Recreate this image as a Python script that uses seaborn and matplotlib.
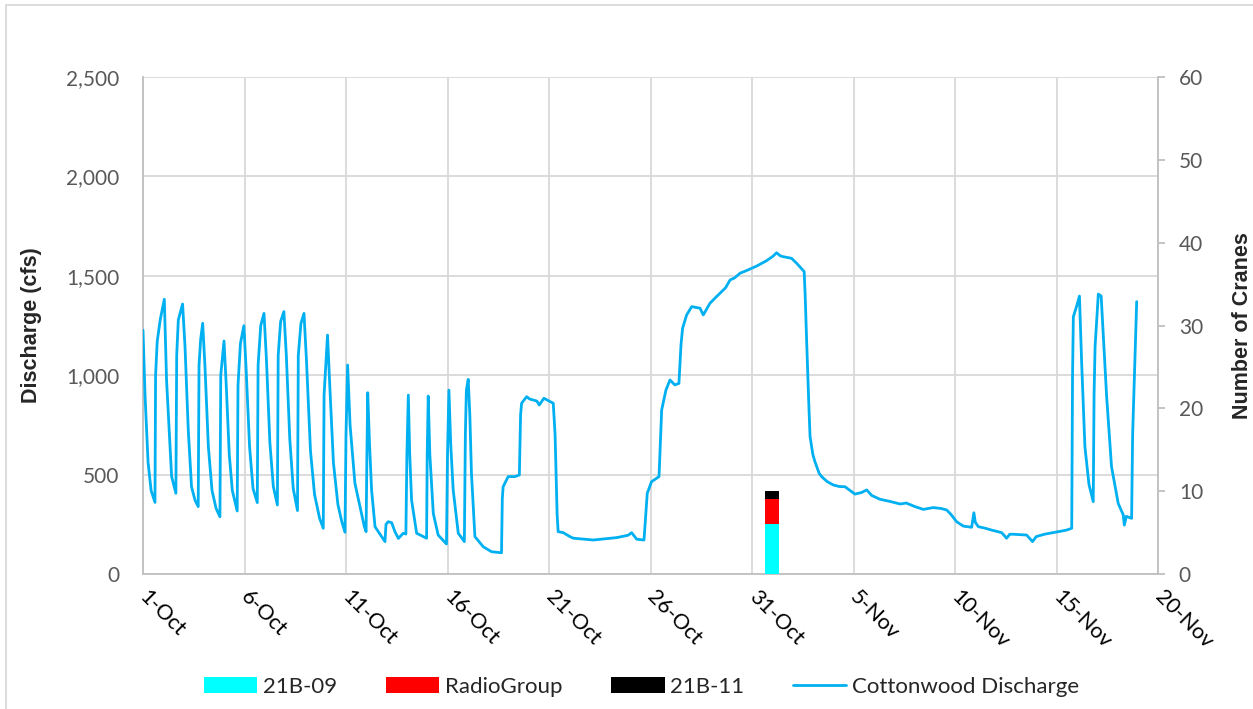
import numpy as np
import pandas as pd
import matplotlib
matplotlib.use('Agg')
import matplotlib.pyplot as plt
import matplotlib.dates as mdates
from matplotlib.patches import Patch, Rectangle
from matplotlib.lines import Line2D
from matplotlib.font_manager import FontProperties
import seaborn as sns

# Cottonwood discharge (cfs): days after 1-Oct 00:00
day_offset = [
    0.00, 0.10, 0.25, 0.40, 0.59, 0.62, 0.70, 0.85, 1.05, 1.16, 1.33, 1.41,
    1.62, 1.66, 1.74, 1.95, 2.07, 2.23, 2.39, 2.56, 2.72, 2.76, 2.84, 2.94,
    3.05, 3.22, 3.40, 3.60, 3.79, 3.83, 3.99, 4.10, 4.25, 4.40, 4.64, 4.68,
    4.80, 4.97, 5.08, 5.25, 5.42, 5.63, 5.67, 5.80, 5.96, 6.08, 6.25, 6.42,
    6.62, 6.66, 6.78, 6.94, 7.06, 7.23, 7.40, 7.61, 7.65, 7.78, 7.93, 8.05,
    8.25, 8.45, 8.70, 8.88, 8.92, 9.09, 9.20, 9.38, 9.60, 9.80, 9.95, 10.00,
    10.08, 10.20, 10.44, 10.69, 10.90, 10.99, 11.03, 11.07, 11.16, 11.26, 11.43, 11.59,
    11.92, 11.97, 12.08, 12.25, 12.41, 12.58, 12.82, 12.95, 13.00, 13.07, 13.14, 13.23,
    13.48, 13.97, 14.00, 14.05, 14.13, 14.30, 14.54, 14.95, 15.00, 15.07, 15.16, 15.28,
    15.53, 15.83, 15.88, 15.93, 16.02, 16.10, 16.18, 16.35, 16.76, 17.17, 17.66, 17.70,
    17.74, 17.99, 18.32, 18.54, 18.60, 18.65, 18.90, 19.05, 19.22, 19.40, 19.52, 19.75,
    20.00, 20.21, 20.30, 20.40, 20.45, 20.70, 21.03, 21.20, 22.18, 23.33, 23.90, 24.07,
    24.32, 24.68, 24.80, 24.84, 25.05, 25.42, 25.50, 25.55, 25.76, 25.96, 26.20, 26.40,
    26.50, 26.58, 26.78, 27.03, 27.30, 27.44, 27.60, 27.93, 28.20, 28.42, 28.70, 28.92,
    29.15, 29.41, 29.70, 29.98, 30.25, 30.48, 30.70, 30.89, 31.05, 31.21, 31.40, 31.54,
    31.75, 31.95, 32.20, 32.45, 32.57, 32.62, 32.69, 32.80, 32.86, 33.00, 33.10, 33.31,
    33.43, 33.70, 34.00, 34.30, 34.58, 35.07, 35.40, 35.65, 35.90, 36.30, 36.80, 37.30,
    37.60, 38.00, 38.44, 38.92, 39.30, 39.59, 39.80, 40.08, 40.41, 40.82, 40.93, 41.00,
    41.15, 41.50, 41.80, 42.30, 42.54, 42.70, 42.87, 43.53, 43.82, 44.00, 44.40, 44.84,
    45.20, 45.50, 45.75, 45.79, 45.83, 46.00, 46.13, 46.24, 46.40, 46.60, 46.81, 46.85,
    46.90, 47.06, 47.20, 47.47, 47.71, 48.04, 48.29, 48.34, 48.44, 48.70, 48.75, 48.95,
]
discharge = [
    1227, 900, 560, 420, 360, 1000, 1170, 1280, 1382, 976, 640, 490,
    406, 1100, 1278, 1358, 1143, 724, 439, 372, 339, 1050, 1180, 1261,
    1050, 640, 420, 330, 288, 1000, 1172, 950, 600, 420, 317, 950,
    1160, 1249, 1030, 640, 430, 359, 1050, 1250, 1311, 1080, 660, 440,
    347, 1100, 1270, 1320, 1100, 680, 430, 319, 1100, 1260, 1311, 1080,
    620, 400, 280, 230, 900, 1202, 950, 560, 350, 260, 210, 700,
    1051, 750, 456, 339, 240, 213, 600, 912, 650, 423, 238, 213,
    163, 250, 263, 258, 213, 179, 205, 201, 600, 900, 600, 372,
    205, 180, 600, 895, 600, 305, 196, 151, 600, 925, 650, 423,
    205, 163, 700, 925, 979, 800, 506, 188, 137, 112, 107, 380,
    439, 490, 490, 498, 800, 859, 892, 880, 875, 870, 850, 884,
    870, 859, 700, 300, 213, 208, 188, 180, 171, 183, 195, 208,
    175, 171, 350, 406, 464, 490, 700, 825, 925, 976, 951, 959,
    1150, 1236, 1303, 1345, 1340, 1337, 1303, 1362, 1390, 1412, 1440, 1479,
    1490, 1513, 1525, 1538, 1550, 1563, 1575, 1588, 1600, 1616, 1600, 1596,
    1592, 1588, 1563, 1535, 1521, 1400, 1177, 850, 691, 600, 565, 506,
    490, 465, 448, 440, 439, 402, 410, 423, 395, 376, 365, 352,
    357, 340, 325, 334, 330, 322, 300, 263, 241, 235, 308, 260,
    238, 230, 221, 208, 180, 200, 200, 196, 163, 188, 200, 208,
    215, 221, 230, 1000, 1294, 1350, 1398, 1060, 640, 450, 364, 900,
    1143, 1408, 1398, 892, 540, 355, 297, 246, 290, 280, 700, 1370,
]

# Crane observations (stacked column on 1-Nov)
crane_date = ['2021-11-01']
group_names = ['21B-09', 'RadioGroup', '21B-11']
group_counts = [[6], [3], [1]]
group_colors = ['#00FFFF', '#FF0000', '#000000']

tick_dates = pd.date_range('2021-10-01', '2021-11-20', freq='5D')

start = pd.Timestamp('2021-10-01')
df = pd.DataFrame({
    'time': start + pd.to_timedelta(day_offset, unit='D'),
    'discharge': discharge,
})

sns.set_style('white')
plt.rcParams['font.family'] = ['Lato', 'DejaVu Sans']

fig = plt.figure(figsize=(12.53, 7.09), dpi=100)
ax = fig.add_axes([143 / 1253, 1 - 574 / 709, (1158 - 143) / 1253, (574 - 77) / 709])
ax2 = ax.twinx()

line_color = '#00B0F0'
grid_color = '#D9D9D9'
spine_color = '#BFBFBF'
tick_color = '#595959'

sns.lineplot(data=df, x='time', y='discharge', ax=ax, color=line_color,
             linewidth=2.0, zorder=3)

# stacked crane columns on the secondary axis
bar_x = pd.to_datetime(crane_date)
bottom = np.zeros(len(crane_date))
for name, counts, col in zip(group_names, group_counts, group_colors):
    ax2.bar(bar_x, counts, bottom=bottom, width=0.7, color=col, label=name,
            linewidth=0, zorder=2)
    bottom += np.array(counts)

ax.set_xlim(pd.Timestamp('2021-10-01'), pd.Timestamp('2021-11-20'))
ax.set_ylim(0, 2500)
ax2.set_ylim(0, 60)
ax.set_yticks(range(0, 2501, 500))
ax2.set_yticks(range(0, 61, 10))
ax.yaxis.set_major_formatter(matplotlib.ticker.FuncFormatter(lambda v, p: f'{int(v):,}'))

ax.set_xticks(tick_dates)
ax.xaxis.set_major_formatter(mdates.DateFormatter('%-d-%b'))
for lbl in ax.get_xticklabels():
    lbl.set_rotation(-45)
    lbl.set_rotation_mode('anchor')
    lbl.set_ha('left')
    lbl.set_va('center')

ax.grid(True, color=grid_color, linewidth=1.3)
ax.set_axisbelow(True)
for a in (ax, ax2):
    for s in a.spines.values():
        s.set_visible(False)
ax.spines['left'].set_visible(True)
ax.spines['left'].set_color(spine_color)
ax.spines['left'].set_linewidth(1.3)
ax.spines['bottom'].set_visible(True)
ax.spines['bottom'].set_color(spine_color)
ax.spines['bottom'].set_linewidth(1.3)
ax2.spines['right'].set_visible(True)
ax2.spines['right'].set_color(spine_color)
ax2.spines['right'].set_linewidth(1.3)

ax.tick_params(axis='y', length=0, pad=17, labelsize=15, labelcolor=tick_color)
ax.tick_params(axis='x', length=0, pad=14, labelsize=15.5, labelcolor='black')
ax2.tick_params(axis='y', length=5, width=1.3, color=spine_color, pad=10,
                labelsize=15, labelcolor=tick_color)

label_fp = FontProperties(family='Liberation Sans', weight='bold', size=15.5)
ax.set_xlabel('')
ax.set_ylabel('Discharge (cfs)', fontproperties=label_fp)
ax2.set_ylabel('Number of Cranes', fontproperties=label_fp)
ax.yaxis.set_label_coords(-0.0995, 0.5)
ax2.yaxis.set_label_coords(1.073, 0.5)

handles = [Patch(facecolor=c, edgecolor='none') for c in group_colors]
handles.append(Line2D([0], [0], color=line_color, linewidth=2))
labels = group_names + ['Cottonwood Discharge']
fig.legend(handles, labels, loc='center', bbox_to_anchor=(0.512, 1 - 687 / 709),
           ncol=4, frameon=False, fontsize=16, handlelength=2.4,
           handleheight=0.75, columnspacing=2.2, handletextpad=0.25)

# chart area border
fig.patches.append(Rectangle((6 / 1253, -0.05), 1.1, 1 - 5 / 709 + 0.05,
                             transform=fig.transFigure, fill=False,
                             edgecolor='#D9D9D9', linewidth=1.3))

fig.savefig('out.png', dpi=100)
